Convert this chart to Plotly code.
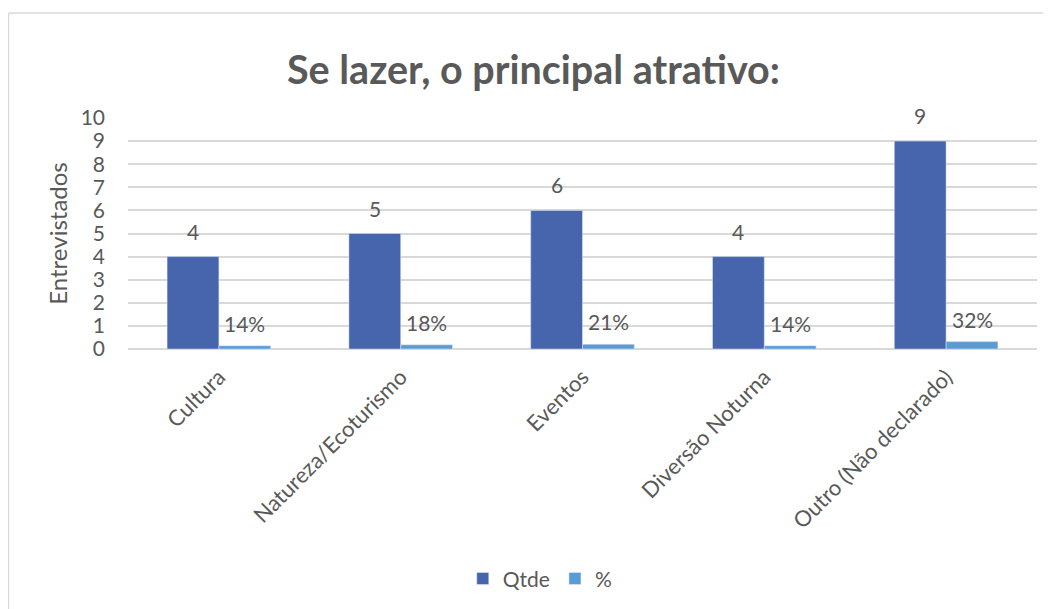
import plotly.graph_objects as go

categorias = ["Cultura", "Natureza/Ecoturismo", "Eventos", "Diversão Noturna", "Outro (Não declarado)"]
qtde = [4, 5, 6, 4, 9]
percentual = [0.14, 0.18, 0.21, 0.14, 0.32]

cinza = "#595959"
fonte = "Lato"

fig = go.Figure()
fig.add_trace(go.Bar(x=categorias, y=qtde, name="Qtde", marker_color="#4665AC"))
fig.add_trace(go.Bar(x=categorias, y=percentual, name="%", marker_color="#5B9BD5"))

# rótulos de dados (acima das barras, com o afastamento do original)
for cat, q, p in zip(categorias, qtde, percentual):
    fig.add_annotation(x=cat, y=q, text=str(q), showarrow=False, xref="x", yref="y",
                       xshift=-26, yshift=11, yanchor="bottom",
                       font=dict(size=21, color=cinza, family=fonte))
    fig.add_annotation(x=cat, y=p, text=f"{p:.0%}", showarrow=False, xref="x", yref="y",
                       xshift=26, yshift=8, yanchor="bottom",
                       font=dict(size=21, color=cinza, family=fonte))

fig.update_layout(
    width=1051, height=609,
    margin=dict(l=120, r=22, t=110, b=268),
    paper_bgcolor="white", plot_bgcolor="white",
    font=dict(family=fonte, color=cinza),
    title=dict(text="<b>Se lazer, o principal atrativo:</b>", x=0.5, xanchor="center",
               y=0.898, yanchor="middle", font=dict(size=39.5, color=cinza)),
    barmode="group", bargap=0.43, bargroupgap=0,
    legend=dict(orientation="h", x=0.453, xanchor="center", y=-0.995, yanchor="middle",
                font=dict(size=21, color=cinza), traceorder="normal"),
)
fig.update_yaxes(range=[0, 10], dtick=1, showgrid=True, gridcolor="#D9D9D9", gridwidth=1.5,
                 zeroline=True, zerolinecolor="#D9D9D9", zerolinewidth=1.5,
                 tickfont=dict(size=21, color=cinza), ticks="", ticklabelstandoff=22,
                 title=dict(text="Entrevistados", font=dict(size=24, color=cinza), standoff=6))
fig.update_xaxes(tickangle=-45, tickfont=dict(size=22, color=cinza), ticks="",
                 showline=False, ticklabelstandoff=10)

# borda do gráfico
fig.add_shape(type="line", xref="paper", yref="paper", x0=-0.1315, x1=1.05, y0=1.4545, y1=1.4545,
              line=dict(color="#D9D9D9", width=1.5))
fig.add_shape(type="line", xref="paper", yref="paper", x0=-0.1315, x1=-0.1315, y0=1.4545, y1=-1.3,
              line=dict(color="#D9D9D9", width=1.5))

fig.write_html("out.html")
